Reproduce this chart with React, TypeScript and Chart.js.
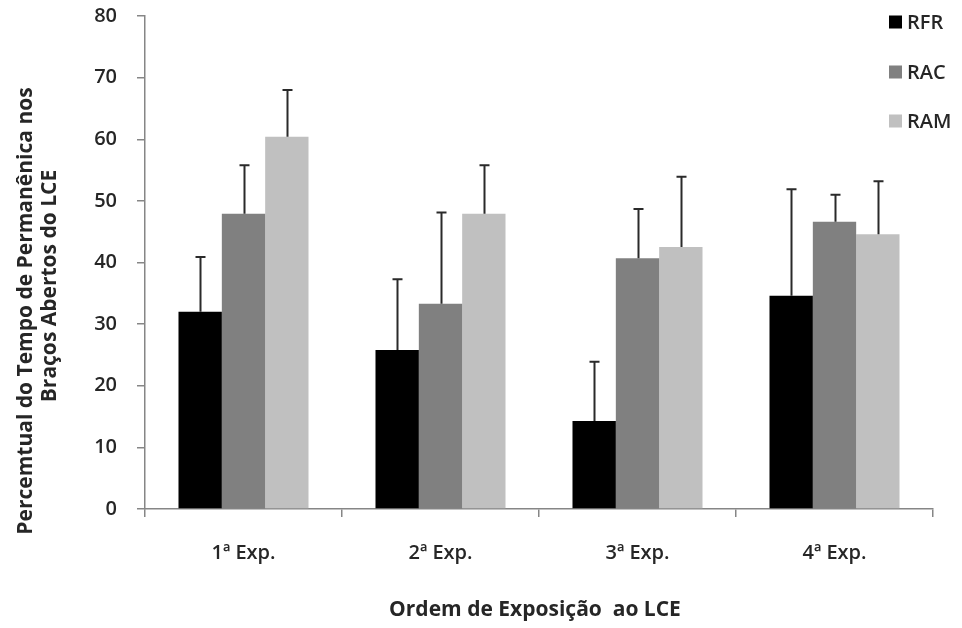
import React, { useEffect, useRef } from 'react';
import { Chart, registerables } from 'chart.js';

Chart.register(...registerables);

const categories = ['1ª Exp.', '2ª Exp.', '3ª Exp.', '4ª Exp.'];
const seriesNames = ['RFR', 'RAC', 'RAM'];
const rfrValues = [32.0, 25.8, 14.3, 34.6];
const racValues = [47.9, 33.3, 40.7, 46.6];
const ramValues = [60.4, 47.9, 42.5, 44.6];
const rfrErrors = [8.9, 11.5, 9.6, 17.3];
const racErrors = [7.9, 14.8, 8.0, 4.4];
const ramErrors = [7.6, 7.9, 11.4, 8.6];
const seriesColors = ['#000000', '#808080', '#c0c0c0'];
const yMin = 0;
const yMax = 80;
const yStep = 10;
const yTitleLines = ['Percemtual do Tempo de Permanênica nos', 'Braços Abertos do LCE'];
const xTitle = 'Ordem de Exposição  ao LCE';

const FONT = '"Open Sans", "DejaVu Sans", sans-serif';
const TEXT_COLOR = '#262626';
const AXIS_COLOR = '#868686';

const errorBarPlugin = {
  id: 'errorBars',
  afterDatasetsDraw(chart: any) {
    const ctx = chart.ctx;
    const yScale = chart.scales.y;
    ctx.save();
    ctx.strokeStyle = '#2a2a2a';
    ctx.lineWidth = 2;
    chart.data.datasets.forEach((ds: any, i: number) => {
      const meta = chart.getDatasetMeta(i);
      meta.data.forEach((bar: any, j: number) => {
        const v = ds.data[j];
        const e = ds.errors[j];
        const yTop = yScale.getPixelForValue(v + e);
        const x = Math.round(bar.x) + 0.5;
        ctx.beginPath();
        ctx.moveTo(x, bar.y);
        ctx.lineTo(x, yTop);
        ctx.moveTo(x - 5, yTop);
        ctx.lineTo(x + 5, yTop);
        ctx.stroke();
      });
    });
    ctx.restore();
  },
};

const legendPlugin = {
  id: 'customLegend',
  afterDraw(chart: any) {
    const ctx = chart.ctx;
    const rows = [22, 72, 121];
    ctx.save();
    ctx.font = `600 20px ${FONT}`;
    ctx.textBaseline = 'middle';
    ctx.textAlign = 'left';
    chart.data.datasets.forEach((ds: any, i: number) => {
      const cy = rows[i];
      ctx.fillStyle = ds.backgroundColor;
      ctx.fillRect(889, cy - 6.5, 13, 13);
      ctx.fillStyle = TEXT_COLOR;
      ctx.fillText(ds.label, 907, cy + 1);
    });
    ctx.restore();
  },
};

const titlesPlugin = {
  id: 'customTitles',
  afterDraw(chart: any) {
    const ctx = chart.ctx;
    ctx.save();
    ctx.fillStyle = TEXT_COLOR;
    ctx.font = `bold 21px ${FONT}`;
    ctx.textAlign = 'center';
    ctx.textBaseline = 'middle';
    ctx.fillText(xTitle, 535, 610);
    const pos = [
      [26, 311],
      [50, 286],
    ];
    yTitleLines.forEach((line, i) => {
      ctx.save();
      ctx.translate(pos[i][0], pos[i][1]);
      ctx.rotate(-Math.PI / 2);
      ctx.fillText(line, 0, 0);
      ctx.restore();
    });
    ctx.restore();
  },
};

export default function App() {
  const ref = useRef<HTMLCanvasElement | null>(null);
  useEffect(() => {
    if (!ref.current) return;
    const valuesList = [rfrValues, racValues, ramValues];
    const errorsList = [rfrErrors, racErrors, ramErrors];
    const chart = new Chart(ref.current, {
      type: 'bar',
      data: {
        labels: categories,
        datasets: seriesNames.map((name, i) => ({
          label: name,
          data: valuesList[i],
          errors: errorsList[i],
          backgroundColor: seriesColors[i],
          borderWidth: 0,
          barPercentage: 1.0,
          categoryPercentage: 0.66,
        })) as any,
      },
      options: {
        responsive: false,
        animation: false,
        layout: { padding: { left: 0, right: 29, top: 16, bottom: 0 } },
        plugins: {
          legend: { display: false },
          tooltip: { enabled: false },
        },
        scales: {
          x: {
            grid: {
              offset: true,
              drawOnChartArea: false,
              tickLength: 8,
              color: AXIS_COLOR,
              lineWidth: 1.5,
            },
            border: { color: AXIS_COLOR, width: 1.5 },
            ticks: {
              padding: 24,
              color: TEXT_COLOR,
              font: { family: FONT, size: 20, weight: '600' },
            },
            afterFit: (s: any) => {
              s.height = 119;
              s.paddingLeft = 0;
              s.paddingRight = 0;
            },
          },
          y: {
            min: yMin,
            max: yMax,
            ticks: {
              stepSize: yStep,
              padding: 20,
              color: TEXT_COLOR,
              font: { family: FONT, size: 20, weight: '600' },
            },
            grid: {
              drawOnChartArea: false,
              tickLength: 8,
              color: AXIS_COLOR,
              lineWidth: 1.5,
            },
            border: { color: AXIS_COLOR, width: 1.5 },
            afterFit: (s: any) => {
              s.width = 145;
              s.paddingTop = 0;
              s.paddingBottom = 0;
            },
          },
        },
      } as any,
      plugins: [errorBarPlugin, legendPlugin, titlesPlugin],
    });
    return () => chart.destroy();
  }, []);
  return (
    <div style={{ position: 'absolute', left: 0, top: 0, width: 962, height: 628, background: '#fff' }}>
      <canvas ref={ref} width={962} height={628} style={{ display: 'block' }} />
    </div>
  );
}
